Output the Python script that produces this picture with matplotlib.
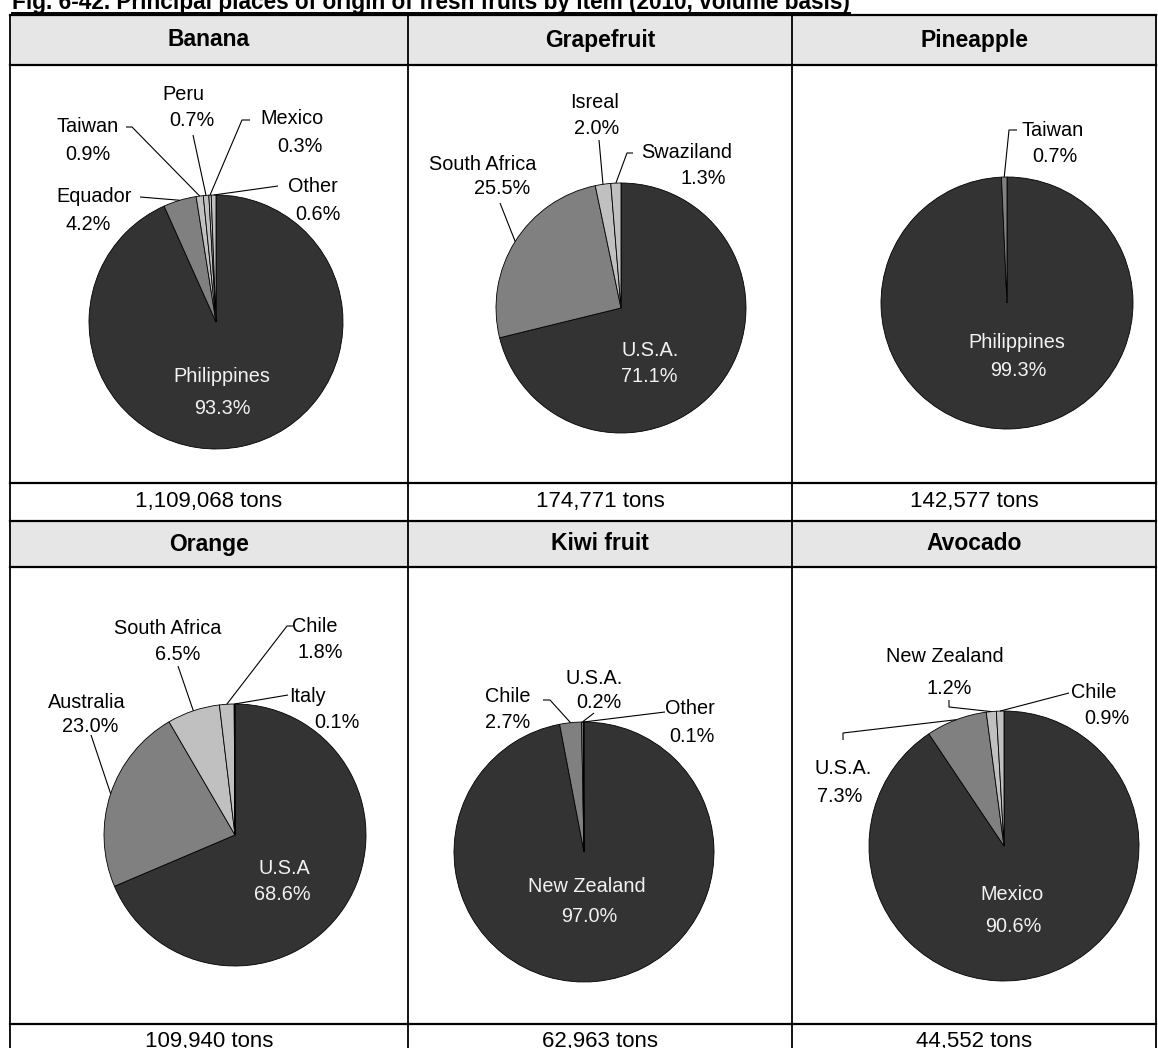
import matplotlib
matplotlib.use("Agg")
from matplotlib import pyplot as plt
import numpy as np

plt.rcParams['font.family'] = ['Liberation Sans', 'DejaVu Sans']

W, H = 1158, 1048

title = "Fig. 6-42. Principal places of origin of fresh fruits by item (2010, volume basis)"

fruits = ["Banana", "Grapefruit", "Pineapple", "Orange", "Kiwi fruit", "Avocado"]
tons = ["1,109,068 tons", "174,771 tons", "142,577 tons", "109,940 tons", "62,963 tons", "44,552 tons"]

banana_origin = ["Philippines", "Equador", "Taiwan", "Peru", "Mexico", "Other"]
banana_share = [93.3, 4.2, 0.9, 0.7, 0.3, 0.6]

grapefruit_origin = ["U.S.A.", "South Africa", "Isreal", "Swaziland"]
grapefruit_share = [71.1, 25.5, 2.0, 1.3]

pineapple_origin = ["Philippines", "Taiwan"]
pineapple_share = [99.3, 0.7]

orange_origin = ["U.S.A", "Australia", "South Africa", "Chile", "Italy"]
orange_share = [68.6, 23.0, 6.5, 1.8, 0.1]

kiwi_origin = ["New Zealand", "Chile", "U.S.A.", "Other"]
kiwi_share = [97.0, 2.7, 0.2, 0.1]

avocado_origin = ["Mexico", "U.S.A.", "New Zealand", "Chile"]
avocado_share = [90.6, 7.3, 1.2, 0.9]

# grey shades of the wedges, in the same order as the shares
DARK, MID, LIGHT = "#333333", "#808080", "#c0c0c0"
shades = {
    "Banana": [DARK, MID, LIGHT, LIGHT, LIGHT, LIGHT],
    "Grapefruit": [DARK, MID, LIGHT, LIGHT],
    "Pineapple": [DARK, MID],
    "Orange": [DARK, MID, LIGHT, LIGHT, LIGHT],
    "Kiwi fruit": [DARK, MID, LIGHT, LIGHT],
    "Avocado": [DARK, MID, LIGHT, LIGHT],
}

# layout in pixels (y measured from the top): pie centre/radius, inner label,
# outer labels with the elbow points of their leader lines
layout = {
    "Banana": dict(pie=(216, 322, 127), inner=((222, 377), (222, 409)), labels={
        "Equador": ((94, 197), (88, 224), [(140, 197)]),
        "Taiwan": ((88, 126), (88, 155), [(126, 127), (132, 127)]),
        "Peru": ((183, 95), (192, 121), [(193, 135)]),
        "Mexico": ((292, 118), (300, 146), [(250, 120), (242, 120)]),
        "Other": ((313, 186), (318, 214), [(278, 186)]),
    }),
    "Grapefruit": dict(pie=(621, 308, 125), inner=((650, 350), (649, 377)), labels={
        "South Africa": ((483, 164), (502, 189), [(500, 203)]),
        "Isreal": ((595, 103), (597, 129), [(599, 140)]),
        "Swaziland": ((687, 153), (703, 179), [(633, 153), (627, 153)]),
    }),
    "Pineapple": dict(pie=(1007, 303, 126), inner=((1017, 342), (1018, 370)), labels={
        "Taiwan": ((1053, 130), (1055, 157), [(1017, 130), (1009, 130)]),
    }),
    "Orange": dict(pie=(235, 835, 131), inner=((284, 868), (282, 894)), labels={
        "Australia": ((87, 703), (90, 726), [(91, 735)]),
        "South Africa": ((168, 628), (178, 654), [(178, 666)]),
        "Chile": ((315, 627), (320, 653), [(293, 626), (287, 626)]),
        "Italy": ((307, 697), (337, 723), [(288, 695)]),
    }),
    "Kiwi fruit": dict(pie=(584, 852, 130), inner=((587, 887), (589, 917)), labels={
        "Chile": ((508, 697), (508, 723), [(543, 700), (550, 700)]),
        "U.S.A.": ((594, 678), (599, 703), [(594, 713)]),
        "Other": ((690, 709), (692, 736), [(665, 712)]),
    }),
    "Avocado": dict(pie=(1004, 846, 135), inner=((1012, 895), (1013, 927)), labels={
        "U.S.A.": ((843, 768), (840, 796), [(843, 740), (843, 733)]),
        "New Zealand": ((945, 657), (949, 688), [(949, 700), (949, 707)]),
        "Chile": ((1094, 692), (1107, 718), [(1069, 693)]),
    }),
}

data = {
    "Banana": (banana_origin, banana_share),
    "Grapefruit": (grapefruit_origin, grapefruit_share),
    "Pineapple": (pineapple_origin, pineapple_share),
    "Orange": (orange_origin, orange_share),
    "Kiwi fruit": (kiwi_origin, kiwi_share),
    "Avocado": (avocado_origin, avocado_share),
}

col_x = [10, 408, 792, 1156]
row_y = [15, 65, 483, 521, 567, 1024, 1062]
FS = 14.3        # pie labels
HEAD_FS = 16.5   # fruit names
TONS_FS = 16
TITLE_FS = 16.3


def Y(p):
    return H - p


def draw_pie(ax, fruit):
    origins, shares = data[fruit]
    lay = layout[fruit]
    cx, cy, r = lay["pie"]
    ax.pie(shares, colors=shades[fruit], startangle=90, counterclock=False,
           center=(cx, Y(cy)), radius=r, frame=True,
           wedgeprops=dict(edgecolor="black", linewidth=0.6))
    total = sum(shares)
    cum = 0
    for i, (o, s) in enumerate(zip(origins, shares)):
        mid = np.radians(90 - 360 * (cum + s / 2) / total)
        cum += s
        pct = "%.1f%%" % s
        if i == 0:
            (nx, ny), (px, py) = lay["inner"]
            ax.text(nx, Y(ny), o, color="#f2f2f2", fontsize=FS, ha="center", va="center")
            ax.text(px, Y(py), pct, color="#f2f2f2", fontsize=FS, ha="center", va="center")
            continue
        (nx, ny), (px, py), elbows = lay["labels"][o]
        ax.text(nx, Y(ny), o, fontsize=FS, ha="center", va="center")
        ax.text(px, Y(py), pct, fontsize=FS, ha="center", va="center")
        xs = [e[0] for e in elbows] + [cx + r * np.cos(mid)]
        ys = [Y(e[1]) for e in elbows] + [Y(cy) + r * np.sin(mid)]
        ax.plot(xs, ys, color="black", lw=0.8, solid_capstyle="butt")


fig = plt.figure(figsize=(W / 100, H / 100), dpi=100)
ax = fig.add_axes([0, 0, 1, 1])

# grey header rows
for top, bot in [(row_y[0], row_y[1]), (row_y[3], row_y[4])]:
    ax.fill_between([col_x[0], col_x[-1]], Y(bot), Y(top), color="#e6e6e6", lw=0)

for k, fruit in enumerate(fruits):
    col, row = k % 3, k // 3
    xm = (col_x[col] + col_x[col + 1]) / 2
    head_top, head_bot = row_y[row * 3], row_y[row * 3 + 1]
    tons_top, tons_bot = row_y[row * 3 + 2], row_y[row * 3 + 3]
    ax.text(xm, Y((head_top + head_bot) / 2), fruit, fontsize=HEAD_FS, fontweight="bold",
            ha="center", va="center")
    ax.text(xm, Y((tons_top + tons_bot) / 2 - 1), tons[k], fontsize=TONS_FS, ha="center", va="center")
    draw_pie(ax, fruit)

for yy in row_y:
    ax.plot([col_x[0], col_x[-1]], [Y(yy), Y(yy)], color="black", lw=1.6, solid_capstyle="projecting")
for xx in col_x:
    ax.plot([xx, xx], [Y(row_y[0]), Y(row_y[-1])], color="black", lw=1.3, solid_capstyle="projecting")

t = ax.text(12, Y(9), title, fontsize=TITLE_FS, fontweight="bold", ha="left", va="baseline")

ax.set_xlim(0, W)
ax.set_ylim(0, H)
ax.axis("off")

fig.canvas.draw()
bb = t.get_window_extent()
ax.plot([bb.x0, bb.x1], [Y(12.5), Y(12.5)], color="black", lw=1.4)

fig.savefig("out.png", dpi=100)
